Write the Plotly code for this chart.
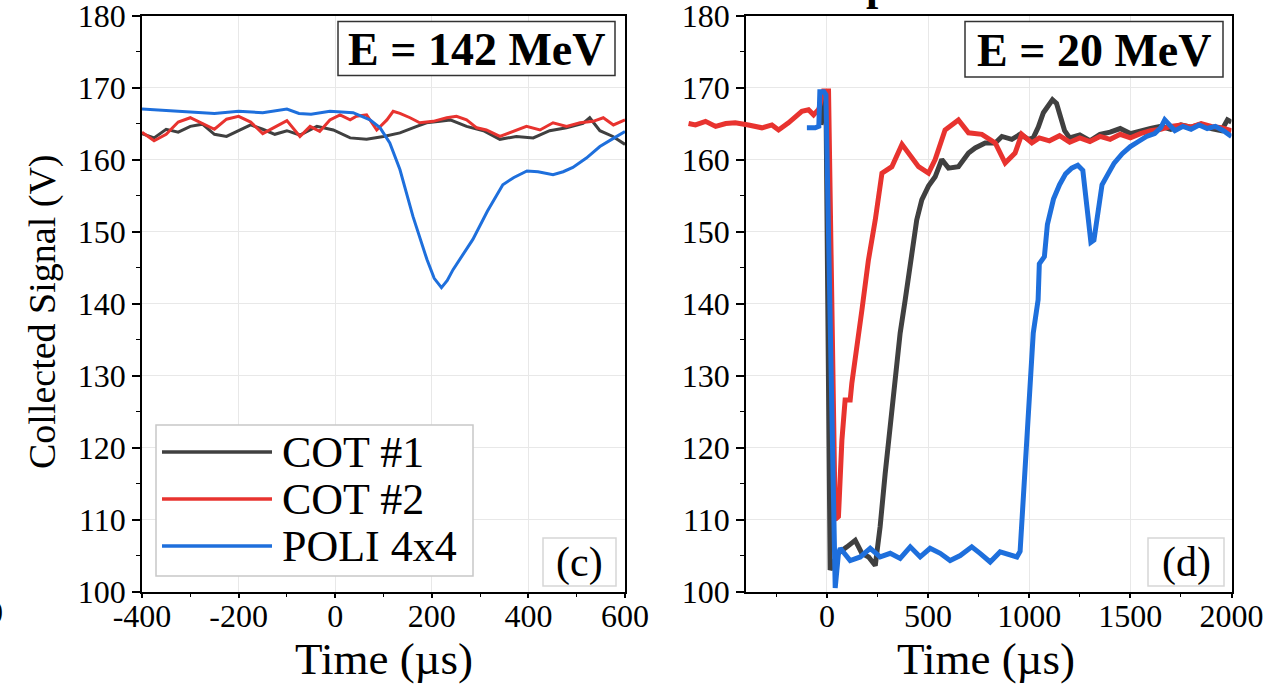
import plotly.graph_objects as go

W, H = 1278, 696
FONT = 'Liberation Serif'

GREY = '#404040'
RED = '#e8332f'
BLUE = '#1e6fdc'

# panel (c) : E = 142 MeV
t_c_cot1 = [-400, -375, -350, -325, -300, -275, -250, -225, -200, -175, -150, -125, -100,
            -73, -38, -4, 31, 65, 100, 134, 169, 189, 217, 238, 272, 307, 341, 375, 410,
            444, 479, 513, 527, 548, 575, 600]
v_c_cot1 = [163.6, 163.0, 164.2, 163.8, 164.6, 164.9, 163.5, 163.2, 164.0, 164.8, 164.2, 163.5, 164.0,
            163.4, 164.6, 164.1, 163.0, 162.8, 163.2, 163.7, 164.6, 165.1, 165.3, 165.5, 164.6, 164.0,
            162.8, 163.2, 163.0, 164.0, 164.4, 165.0, 165.8, 164.0, 163.2, 162.1]

t_c_cot2 = [-400, -375, -350, -325, -300, -275, -250, -225, -200, -175, -150, -125, -100,
            -73, -52, -32, -11, 10, 31, 44, 65, 86, 107, 120, 134, 155, 175, 203, 231, 251,
            272, 293, 313, 341, 369, 396, 424, 451, 479, 507, 534, 555, 576, 600]
v_c_cot2 = [163.8, 162.6, 163.5, 165.2, 165.8, 165.0, 164.2, 165.6, 166.0, 165.2, 163.6, 164.5, 165.4,
            163.2, 164.6, 163.9, 165.5, 166.2, 165.5, 166.0, 166.2, 164.1, 165.5, 166.7, 166.4, 165.8,
            165.1, 165.3, 165.8, 166.0, 165.5, 164.4, 164.1, 163.2, 163.9, 164.6, 164.1, 165.1, 164.6,
            165.1, 165.3, 165.8, 164.8, 165.5]

t_c_poli = [-400, -350, -300, -250, -200, -150, -100, -75, -50, -11, 37, 72, 93, 113, 134, 161,
            190, 205, 220, 232, 244, 265, 285, 315, 347, 370, 397, 420, 451, 472, 492, 520, 548,
            575, 600]
v_c_poli = [167.0, 166.8, 166.6, 166.4, 166.7, 166.5, 167.0, 166.4, 166.3, 166.7, 166.5, 165.5, 164.4,
            162.3, 158.6, 152.1, 146.1, 143.5, 142.2, 143.2, 144.7, 146.8, 148.9, 152.8, 156.5, 157.5,
            158.4, 158.3, 157.9, 158.3, 158.9, 160.2, 161.8, 162.9, 163.9]

# panel (d) : E = 20 MeV
t_d_cot1 = [-30, -5, 16, 56, 99, 140, 173, 206, 239, 263, 288, 321, 346, 362, 387, 444, 469, 502,
            535, 568, 601, 650, 700, 733, 782, 832, 865, 914, 955, 996, 1020, 1045, 1070, 1095,
            1115, 1135, 1155, 1175, 1200, 1250, 1300, 1350, 1400, 1450, 1500, 1550, 1600, 1650,
            1700, 1750, 1800, 1850, 1900, 1950, 1980, 2000]
v_d_cot1 = [164.8, 169.3, 103.0, 105.3, 106.2, 107.1, 105.3, 104.8, 103.6, 109.0, 116.4, 124.7, 131.2,
            135.9, 140.5, 151.6, 154.4, 156.3, 157.6, 160.0, 158.8, 159.0, 160.9, 161.6, 162.3, 162.3,
            163.2, 162.8, 163.5, 162.8, 163.0, 164.5, 166.5, 167.5, 168.3, 167.8, 166.0, 164.0, 163.0,
            163.4, 162.6, 163.5, 163.8, 164.3, 163.6, 164.0, 164.3, 164.6, 164.2, 164.8, 164.5, 164.9,
            164.3, 164.0, 165.5, 165.2]

t_d_cot2 = [-684, -650, -600, -550, -500, -453, -388, -321, -272, -239, -190, -157, -124, -91, -66,
            -40, -17, 8, 41, 57, 74, 90, 115, 123, 148, 173, 205, 239, 272, 321, 371, 403, 453, 502,
            535, 584, 650, 700, 766, 832, 881, 930, 963, 1013, 1050, 1100, 1150, 1200, 1250, 1300,
            1350, 1400, 1450, 1500, 1550, 1600, 1650, 1700, 1750, 1800, 1850, 1900, 1950, 2000]
v_d_cot2 = [165.0, 164.8, 165.3, 164.6, 165.0, 165.1, 164.8, 164.4, 164.8, 164.1, 165.1, 166.0, 166.7,
            166.9, 166.2, 167.0, 169.5, 169.5, 110.0, 110.4, 121.0, 126.6, 126.6, 128.9, 133.5, 139.1,
            146.0, 151.6, 158.1, 159.0, 162.1, 160.9, 159.0, 158.1, 160.0, 164.1, 165.5, 163.7, 163.5,
            162.3, 159.5, 160.9, 163.5, 162.3, 163.0, 162.6, 163.3, 162.4, 163.0, 162.5, 163.2, 162.8,
            163.5, 163.0, 163.6, 164.0, 164.2, 164.6, 164.8, 164.5, 165.0, 164.6, 164.4, 164.0]

t_d_poli = [-99, -58, -40, -35, -15, -5, 41, 57, 66, 115, 165, 214, 263, 313, 362, 412, 461, 510,
            560, 609, 659, 716, 757, 807, 856, 906, 939, 955, 975, 988, 1020, 1044, 1050, 1075, 1090,
            1120, 1150, 1180, 1210, 1240, 1265, 1285, 1305, 1320, 1340, 1360, 1390, 1420, 1460, 1500,
            1540, 1580, 1620, 1650, 1670, 1690, 1720, 1760, 1800, 1840, 1880, 1920, 1960, 2000]
v_d_poli = [164.4, 164.4, 164.6, 169.4, 169.4, 169.0, 100.5, 105.3, 106.0, 104.3, 104.8, 106.0, 104.8,
            105.3, 104.6, 106.2, 104.8, 106.0, 105.3, 104.3, 105.0, 106.2, 105.3, 104.1, 105.5, 105.0,
            104.8, 105.6, 115.0, 122.0, 135.9, 140.5, 145.5, 146.5, 151.0, 154.5, 156.5, 158.0, 158.8,
            159.2, 158.5, 153.5, 148.5, 148.8, 153.0, 156.5, 158.0, 159.5, 160.8, 161.8, 162.5, 163.2,
            163.6, 164.4, 165.5, 164.8, 164.0, 164.6, 164.2, 164.8, 164.3, 164.6, 164.0, 163.2]

series_names = ['COT #1', 'COT #2', 'POLI 4x4']
series_colors = [GREY, RED, BLUE]

y_ticks = [100, 110, 120, 130, 140, 150, 160, 170, 180]
x_ticks_c = [-400, -200, 0, 200, 400, 600]
x_ticktext_c = ['-400', '-200', '0', '200', '400', '600']
x_ticks_d = [0, 500, 1000, 1500, 2000]


def px(x):
    return x / W


def py(y):
    return 1 - y / H


fig = go.Figure()

for t, v, c in zip([t_c_cot1, t_c_cot2, t_c_poli], [v_c_cot1, v_c_cot2, v_c_poli], series_colors):
    fig.add_trace(go.Scatter(x=t, y=v, mode='lines', line=dict(color=c, width=3),
                             xaxis='x', yaxis='y', showlegend=False))

# empty trace so the right-hand frame is drawn
fig.add_trace(go.Scatter(x=[], y=[], xaxis='x2', yaxis='y2', showlegend=False))

# right panel curves on an invisible overlay axis with the same scale (data spill past the left axis)
for t, v, c in zip([t_d_cot1, t_d_cot2, t_d_poli], [v_d_cot1, v_d_cot2, v_d_poli], series_colors):
    fig.add_trace(go.Scatter(x=t, y=v, mode='lines', line=dict(color=c, width=5),
                             xaxis='x3', yaxis='y3', showlegend=False))

ax = dict(showline=True, linecolor='black', linewidth=1.5, mirror=True, automargin=False,
          ticks='outside', ticklen=8, tickwidth=1.5, tickcolor='black', ticklabeloverflow='allow',
          showgrid=True, gridcolor='#e8e8e8', gridwidth=1, zeroline=False,
          tickfont=dict(family=FONT, size=32, color='black'))
minor = dict(ticklen=4, ticks='outside', tickcolor='black', tickwidth=1, showgrid=False)

y_dom = [py(591.5), py(15.5)]
x_dom_c = [px(142), px(625)]
x_dom_d = [px(746), px(1231.5)]
x3_left = 688
x3_start = -400 - (746 - x3_left) * 2400 / (1231.5 - 746)

fig.update_layout(
    template='none',
    width=W, height=H,
    margin=dict(l=0, r=0, t=0, b=0, pad=0),
    paper_bgcolor='white', plot_bgcolor='rgba(0,0,0,0)',
    font=dict(family=FONT, color='black'),
    showlegend=False,
    xaxis=dict(ax, domain=x_dom_c, range=[-400, 600], anchor='y', ticklen=5, ticklabelstandoff=-10,
               tickmode='array', tickvals=x_ticks_c, ticktext=x_ticktext_c,
               minor=dict(minor, dtick=100, tick0=0)),
    yaxis=dict(ax, domain=y_dom, range=[100, 180], anchor='x', tickmode='array', tickvals=y_ticks,
               minor=dict(minor, dtick=5, tick0=100)),
    xaxis2=dict(ax, domain=x_dom_d, range=[-400, 2000], anchor='y2', ticklen=5, ticklabelstandoff=-10,
                tickmode='array', tickvals=x_ticks_d,
                minor=dict(minor, dtick=250, tick0=0)),
    yaxis2=dict(ax, domain=y_dom, range=[100, 180], anchor='x2', tickmode='array', tickvals=y_ticks,
                minor=dict(minor, dtick=5, tick0=100)),
    xaxis3=dict(domain=[px(x3_left), px(1231.5)], range=[x3_start, 2000], anchor='y3', visible=False),
    yaxis3=dict(domain=y_dom, range=[100, 180], anchor='x3', visible=False),
)

shapes = []
annotations = []

# energy boxes
for (x0, x1, y0, y1, label) in [(338, 615, 21.5, 75.5, 'E = 142 MeV'), (965, 1223, 21.5, 77, 'E = 20 MeV')]:
    shapes.append(dict(type='rect', xref='paper', yref='paper', x0=px(x0), x1=px(x1), y0=py(y1), y1=py(y0),
                       line=dict(color='#333333', width=1.5), fillcolor='white', layer='above'))
    annotations.append(dict(text='<b>' + label + '</b>', xref='paper', yref='paper',
                            x=px((x0 + x1) / 2), y=py((y0 + y1) / 2 + 1), xanchor='center', yanchor='middle',
                            showarrow=False, font=dict(family=FONT, size=46, color='black')))

# panel letters
for (x0, x1, label) in [(543, 616, '(c)'), (1148, 1224, '(d)')]:
    shapes.append(dict(type='rect', xref='paper', yref='paper', x0=px(x0), x1=px(x1), y0=py(586), y1=py(538),
                       line=dict(color='#d6d6d6', width=1.5), fillcolor='white', layer='above'))
    annotations.append(dict(text=label, xref='paper', yref='paper', x=px((x0 + x1) / 2), y=py(562),
                            xanchor='center', yanchor='middle', showarrow=False,
                            font=dict(family=FONT, size=42, color='black')))

# legend drawn by hand (long line samples)
shapes.append(dict(type='rect', xref='paper', yref='paper', x0=px(156), x1=px(473), y0=py(576), y1=py(425),
                   line=dict(color='#c8c8c8', width=1.5), fillcolor='white', layer='above'))
for i, (name, col) in enumerate(zip(series_names, series_colors)):
    yy = 452 + 47 * i
    shapes.append(dict(type='line', xref='paper', yref='paper', x0=px(162), x1=px(272), y0=py(yy), y1=py(yy),
                       line=dict(color=col, width=3.5), layer='above'))
    annotations.append(dict(text=name, xref='paper', yref='paper', x=px(280), y=py(yy), xanchor='left',
                            yanchor='middle', showarrow=False, font=dict(family=FONT, size=44, color='black')))

# axis titles
annotations.append(dict(text='Collected Signal (V)', xref='paper', yref='paper', x=px(42), y=py(312),
                        textangle=-90, xanchor='center', yanchor='middle', showarrow=False,
                        font=dict(family=FONT, size=38, color='black')))
for xc in [383.5, 986]:
    annotations.append(dict(text='Time (\u00b5s)', xref='paper', yref='paper', x=px(xc), y=py(659),
                            xanchor='center', yanchor='middle', showarrow=False,
                            font=dict(family=FONT, size=45, color='black')))

# cut-off fragments at the image edges
annotations.append(dict(text='<b>p</b>', xref='paper', yref='paper', x=px(864), y=py(12),
                        xanchor='left', yanchor='bottom', showarrow=False,
                        font=dict(family=FONT, size=44, color='black')))
annotations.append(dict(text='0', xref='paper', yref='paper', x=px(5), y=py(612),
                        xanchor='right', yanchor='middle', showarrow=False,
                        font=dict(family=FONT, size=32, color='black')))

fig.update_layout(shapes=shapes, annotations=annotations)

# the page body has a default 8px margin; drop it so the figure fills the window exactly
fig.write_html("out.html", config={'displayModeBar': False},
               post_script="document.body.style.margin='0px';")
